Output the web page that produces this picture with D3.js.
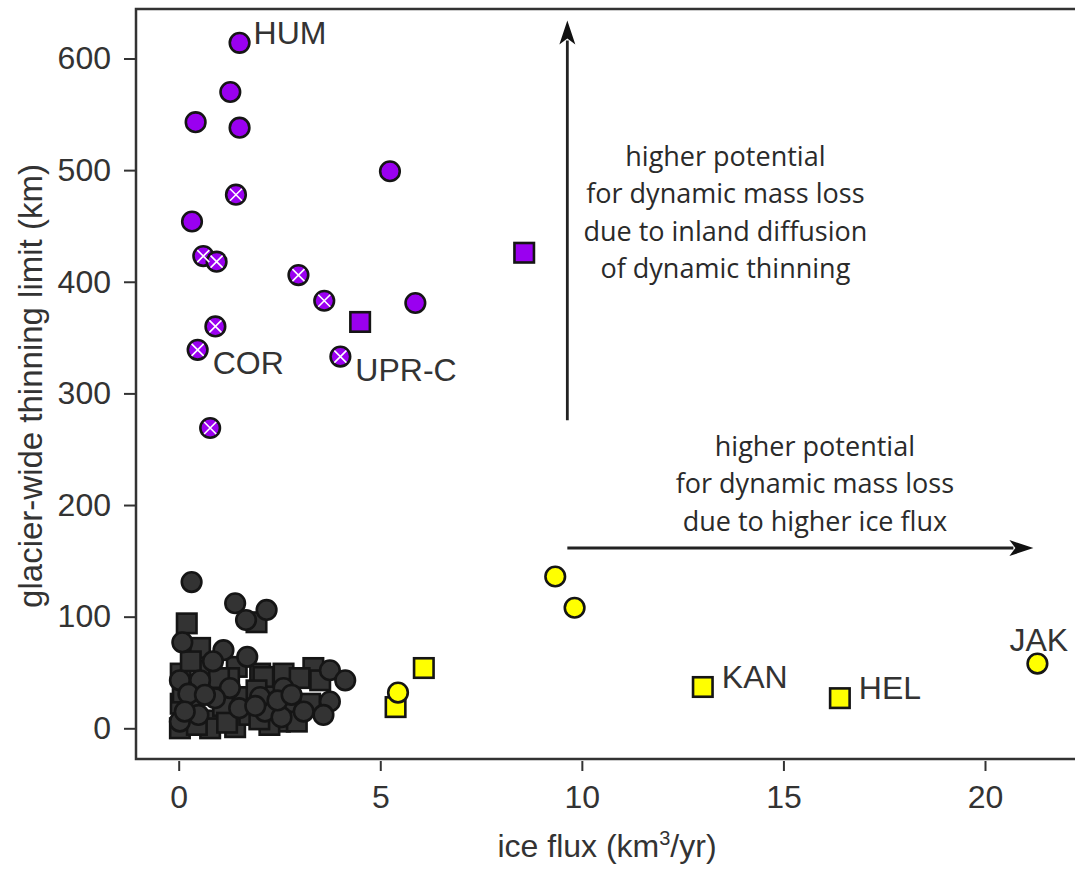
<!DOCTYPE html>
<html>
<head>
<meta charset="utf-8">
<script src="https://cdn.jsdelivr.net/npm/d3@7"></script>
<style>
  body { margin: 0; background: #fff; }
  svg { display: block; }
  .tick text { font-family: "Liberation Sans", Arial, sans-serif; font-size: 32px; fill: #333; }
  .tick line { stroke: #333; stroke-width: 2; }
</style>
</head>
<body>
<svg id="chart" width="1075" height="870"></svg>
<script>
// ice flux (km3/yr), glacier-wide thinning limit (km)
var blackSquares = [
  [0.20,94],[1.93,95],[0.53,72],[0.05,49],[1.44,55],[0.94,7],[1.60,28],[2.02,49],
  [0.03,0],[0.78,0],[1.40,1],[2.35,40],[3.34,54],[3.51,43],[2.60,49],[2.10,46],
  [3.26,22],[2.68,15],[2.51,6],[2.93,6],[1.93,34],[0.05,22],[0.35,20],[1.10,20],
  [1.25,45],[0.70,52],[0.10,32],[1.75,12],[2.25,3],[0.45,3],[0.30,60],[1.00,45],
  [2.00,8],[3.00,45],[1.20,5]
];
var blackCircles = [
  [0.32,131],[1.40,112],[2.18,106],[1.67,97],[0.09,77],[1.11,70],[1.70,64],
  [0.03,43],[0.53,43],[0.24,31],[1.27,36],[0.90,27],[0.03,6],[0.49,12],
  [2.14,15],[2.60,36],[3.75,52],[4.13,43],[3.75,24],[3.59,12],[2.02,28],
  [0.85,60],[2.55,10],[1.50,18],[0.65,30],[2.45,25],[1.90,20],[2.80,30],
  [3.10,15],[0.15,15]
];
var purpleCircles = [
  [1.51,614],[1.28,570],[0.42,543],[1.51,538],[5.24,499],[0.33,454],[5.87,381]
];
var purpleCrossed = [
  [1.42,478],[0.61,423],[0.94,418],[2.97,406],[3.61,383],[0.91,360],[0.47,339],[4.01,333],[0.78,269]
];
var purpleSquares = [[4.50,364],[8.57,426]];
var yellowCircles = [[9.34,136],[9.82,108],[5.44,32],[21.30,58]];
var yellowSquares = [[6.08,54],[5.38,19],[13.00,37],[16.40,27]];

var xTicks = [0, 5, 10, 15, 20];
var yTicks = [0, 100, 200, 300, 400, 500, 600];

// named glaciers: [label, flux, limit]
var glacierLabels = [
  ["HUM", 1.51, 614], ["COR", 0.47, 339], ["UPR-C", 4.01, 333],
  ["KAN", 13.00, 37], ["HEL", 16.40, 27], ["JAK", 21.30, 58]
];
var labelOffsets = {HUM:[14,1], COR:[15,24], "UPR-C":[15,24], KAN:[19,1], HEL:[19,1], JAK:[-28,-13]};

var noteUp = ["higher potential", "for dynamic mass loss", "due to inland diffusion", "of dynamic thinning"];
var noteRight = ["higher potential", "for dynamic mass loss", "due to higher ice flux"];

var svg = d3.select("#chart");
var x = d3.scaleLinear().domain([0, 20]).range([178.7, 985]);
var y = d3.scaleLinear().domain([0, 600]).range([728.3, 58.5]);

var purple = "#9a00f0", yellow = "#ffff00", dark = "#333333", edge = "#151515";
var r = 9.8, side = 19.5;

// frame
svg.append("rect")
	.attr("x", 136).attr("y", 9)
	.attr("width", 960).attr("height", 750)
	.attr("fill", "none")
	.attr("stroke", "#333")
	.attr("stroke-width", 2.5);

var gx = svg.append("g")
	.attr("transform", "translate(0,761)")
	.call(d3.axisBottom(x).tickValues(xTicks).tickSize(10).tickPadding(14));
gx.select(".domain").remove();

var gy = svg.append("g")
	.attr("transform", "translate(136,0)")
	.call(d3.axisLeft(y).tickValues(yTicks).tickSize(12).tickPadding(13));
gy.select(".domain").remove();

// axis titles
var xt = svg.append("text")
	.attr("x", 607).attr("y", 857)
	.attr("text-anchor", "middle")
	.style("font-family", "Liberation Sans, Arial, sans-serif")
	.style("font-size", "32px")
	.style("fill", "#333")
	.text("ice flux (km");
xt.append("tspan").attr("dy", -12).style("font-size", "20px").text("3");
xt.append("tspan").attr("dy", 12).text("/yr)");

svg.append("text")
	.attr("transform", "translate(42,386) rotate(-90)")
	.attr("text-anchor", "middle")
	.style("font-family", "Liberation Sans, Arial, sans-serif")
	.style("font-size", "33px")
	.style("fill", "#333")
	.text("glacier-wide thinning limit (km)");

// arrows
function arrow(x1, y1, x2, y2)
{
	var ang = Math.atan2(y2 - y1, x2 - x1);
	var len = 24, half = 8;
	var bx = x2 - len * Math.cos(ang), by = y2 - len * Math.sin(ang);
	svg.append("line")
		.attr("x1", x1).attr("y1", y1)
		.attr("x2", bx + 4 * Math.cos(ang)).attr("y2", by + 4 * Math.sin(ang))
		.attr("stroke", "#222")
		.attr("stroke-width", 2.8);
	var p1 = [bx - half * Math.sin(ang), by + half * Math.cos(ang)];
	var p2 = [bx + half * Math.sin(ang), by - half * Math.cos(ang)];
	var tip = [bx + 6 * Math.cos(ang), by + 6 * Math.sin(ang)];
	svg.append("path")
		.attr("d", "M" + x2 + "," + y2 + "L" + p1 + "L" + tip + "L" + p2 + "Z")
		.attr("fill", "#111");
}
arrow(x(9.64), y(276), x(9.64), y(634));
arrow(x(9.64), y(161.5), x(21.2), y(161.5));

// notes
function note(lines, cx, cyTop)
{
	svg.append("g").selectAll("text")
		.data(lines)
		.enter().append("text")
			.attr("x", x(cx))
			.attr("y", function(d, i) { return y(cyTop) + i * 37.5; })
			.attr("text-anchor", "middle")
			.style("font-family", "Open Sans, sans-serif")
			.style("font-size", "27px")
			.style("fill", "#2a2a2a")
			.text(function(d) { return d; });
}
note(noteUp, 13.56, 504);
note(noteRight, 15.78, 244);

// markers
function squares(data, fill)
{
	svg.append("g").selectAll("rect")
		.data(data)
		.enter().append("rect")
			.attr("x", function(d) { return x(d[0]) - side / 2; })
			.attr("y", function(d) { return y(d[1]) - side / 2; })
			.attr("width", side)
			.attr("height", side)
			.attr("fill", fill)
			.attr("stroke", edge)
			.attr("stroke-width", 2.6);
}
function circles(data, fill)
{
	svg.append("g").selectAll("circle")
		.data(data)
		.enter().append("circle")
			.attr("cx", function(d) { return x(d[0]); })
			.attr("cy", function(d) { return y(d[1]); })
			.attr("r", r)
			.attr("fill", fill)
			.attr("stroke", edge)
			.attr("stroke-width", 2.6);
}

squares(blackSquares, dark);
circles(blackCircles, dark);
circles(purpleCircles, purple);
circles(purpleCrossed, purple);
var k = 6;
svg.append("g").selectAll("path")
	.data(purpleCrossed)
	.enter().append("path")
		.attr("d", function(d) {
			var cx = x(d[0]), cy = y(d[1]);
			return "M" + (cx - k) + "," + (cy - k) + "L" + (cx + k) + "," + (cy + k) +
				"M" + (cx - k) + "," + (cy + k) + "L" + (cx + k) + "," + (cy - k);
		})
		.attr("stroke", "#fff")
		.attr("stroke-width", 1.6);
squares(purpleSquares, purple);
squares(yellowSquares, yellow);
circles(yellowCircles, yellow);

// glacier names
svg.append("g").selectAll("text")
	.data(glacierLabels)
	.enter().append("text")
		.attr("x", function(d) { return x(d[1]) + labelOffsets[d[0]][0]; })
		.attr("y", function(d) { return y(d[2]) + labelOffsets[d[0]][1]; })
		.style("font-family", "Liberation Sans, Arial, sans-serif")
		.style("font-size", "32px")
		.style("fill", "#333")
		.text(function(d) { return d[0]; });
</script>
</body>
</html>
